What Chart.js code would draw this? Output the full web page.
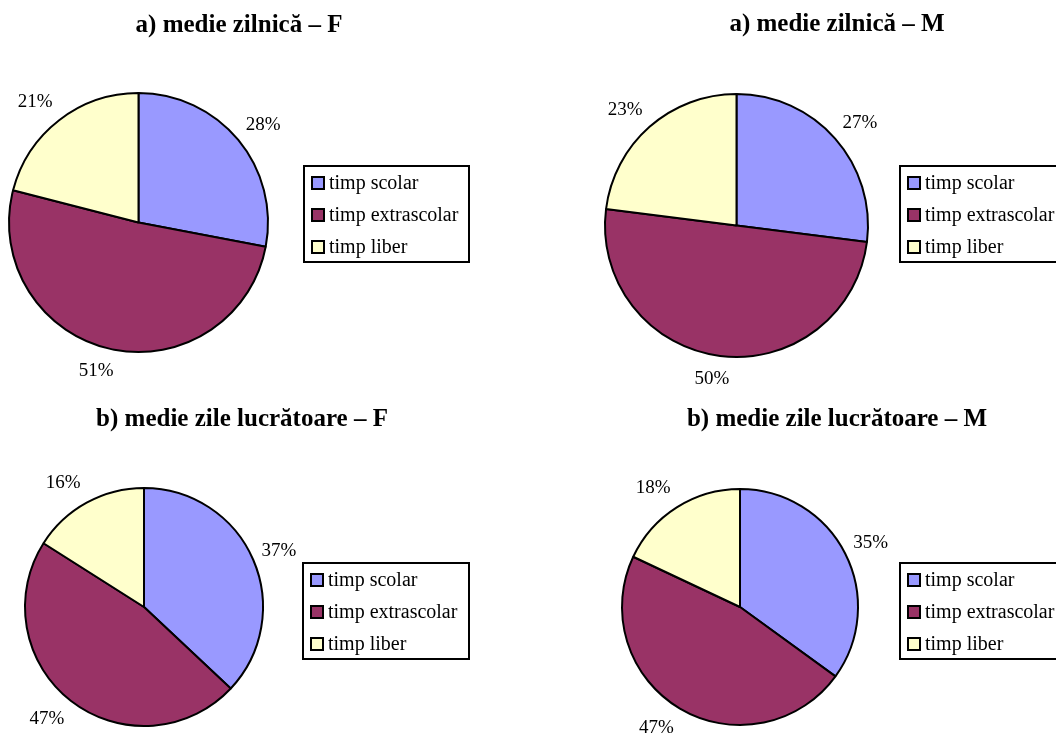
<!DOCTYPE html>
<html>
<head>
<meta charset="utf-8">
<script src="https://cdn.jsdelivr.net/npm/chart.js@4.4.1/dist/chart.umd.min.js"></script>
<style>
  html, body { margin: 0; padding: 0; background: #fff; overflow: hidden; }
  body { width: 1056px; height: 742px; position: relative; }
  canvas { position: absolute; left: 0; top: 0; }
</style>
</head>
<body>
<canvas id="c1" width="1056" height="742"></canvas>
<canvas id="c2" width="1056" height="742"></canvas>
<canvas id="c3" width="1056" height="742"></canvas>
<canvas id="c4" width="1056" height="742"></canvas>
<script>
// categorii si valori (%)
const categories = ['timp scolar', 'timp extrascolar', 'timp liber'];
const titles = [
  'a) medie zilnică – F',
  'a) medie zilnică – M',
  'b) medie zile lucrătoare – F',
  'b) medie zile lucrătoare – M'
];
const zilnicF = [28, 51, 21];
const zilnicM = [27, 50, 23];
const lucratoareF = [37, 47, 16];
const lucratoareM = [35, 47, 18];

const colors = ['#9999FF', '#993366', '#FFFFCC'];
const FONT = '"Liberation Serif", "Times New Roman", serif';

// asezare in pagina (coordonate pagina)
const layouts = [
  { id: 'c1', data: zilnicF,     cx: 138.5, cy: 222.5, r: 129.5, tx: 239, ty: 32,  lg: [304, 166, 165, 96] },
  { id: 'c2', data: zilnicM,     cx: 736.5, cy: 225.5, r: 131.5, tx: 837, ty: 31,  lg: [900, 166, 165, 96] },
  { id: 'c3', data: lucratoareF, cx: 144,   cy: 607,   r: 119,   tx: 242, ty: 426, lg: [303, 563, 166, 96] },
  { id: 'c4', data: lucratoareM, cx: 740,   cy: 607,   r: 118,   tx: 837, ty: 426, lg: [900, 563, 165, 96] }
];

// titlu, etichete procente si legenda cu chenar
const decor = {
  id: 'decor',
  afterDraw(chart, args, opts) {
    const ctx = chart.ctx;
    const ds = chart.data.datasets[0];
    ctx.save();

    // titlu
    ctx.fillStyle = '#000';
    ctx.font = 'bold 25px ' + FONT;
    ctx.textAlign = 'center';
    ctx.textBaseline = 'alphabetic';
    ctx.fillText(opts.title, opts.tx, opts.ty);

    // procente: coltul casetei lipit de cerc, ca in Excel
    ctx.font = '19px ' + FONT;
    ctx.textBaseline = 'middle';
    chart.getDatasetMeta(0).data.forEach((arc, i) => {
      const mid = (arc.startAngle + arc.endAngle) / 2;
      const c = Math.cos(mid), s = Math.sin(mid);
      const d = arc.outerRadius + 5;
      const ox = Math.max(-21, Math.min(21, 60 * c));
      const oy = 18 * s;
      ctx.fillText(ds.data[i] + '%', arc.x + c * d + ox, arc.y + s * d + oy);
    });

    // legenda
    const [x, y, w, h] = opts.legend;
    ctx.lineWidth = 2;
    ctx.strokeStyle = '#000';
    ctx.strokeRect(x, y, w, h);
    ctx.font = '20px ' + FONT;
    ctx.textAlign = 'left';
    chart.data.labels.forEach((lab, i) => {
      const yy = y + 17 + i * 32;
      ctx.fillStyle = ds.backgroundColor[i];
      ctx.fillRect(x + 8, yy - 6, 12, 12);
      ctx.strokeRect(x + 8, yy - 6, 12, 12);
      ctx.fillStyle = '#000';
      ctx.fillText(lab, x + 25, yy + 1);
    });
    ctx.restore();
  }
};

layouts.forEach((L, k) => {
  new Chart(document.getElementById(L.id), {
    type: 'pie',
    data: {
      labels: categories,
      datasets: [{
        data: L.data,
        backgroundColor: colors,
        borderColor: '#000',
        borderWidth: 2
      }]
    },
    options: {
      responsive: false,
      animation: false,
      radius: L.r,
      layout: {
        padding: {
          left: L.cx - L.r,
          right: 1056 - (L.cx + L.r),
          top: L.cy - L.r,
          bottom: 742 - (L.cy + L.r)
        }
      },
      plugins: {
        legend: { display: false },
        tooltip: { enabled: false },
        decor: { title: titles[k], tx: L.tx, ty: L.ty, legend: L.lg }
      }
    },
    plugins: [decor]
  });
});
</script>
</body>
</html>
